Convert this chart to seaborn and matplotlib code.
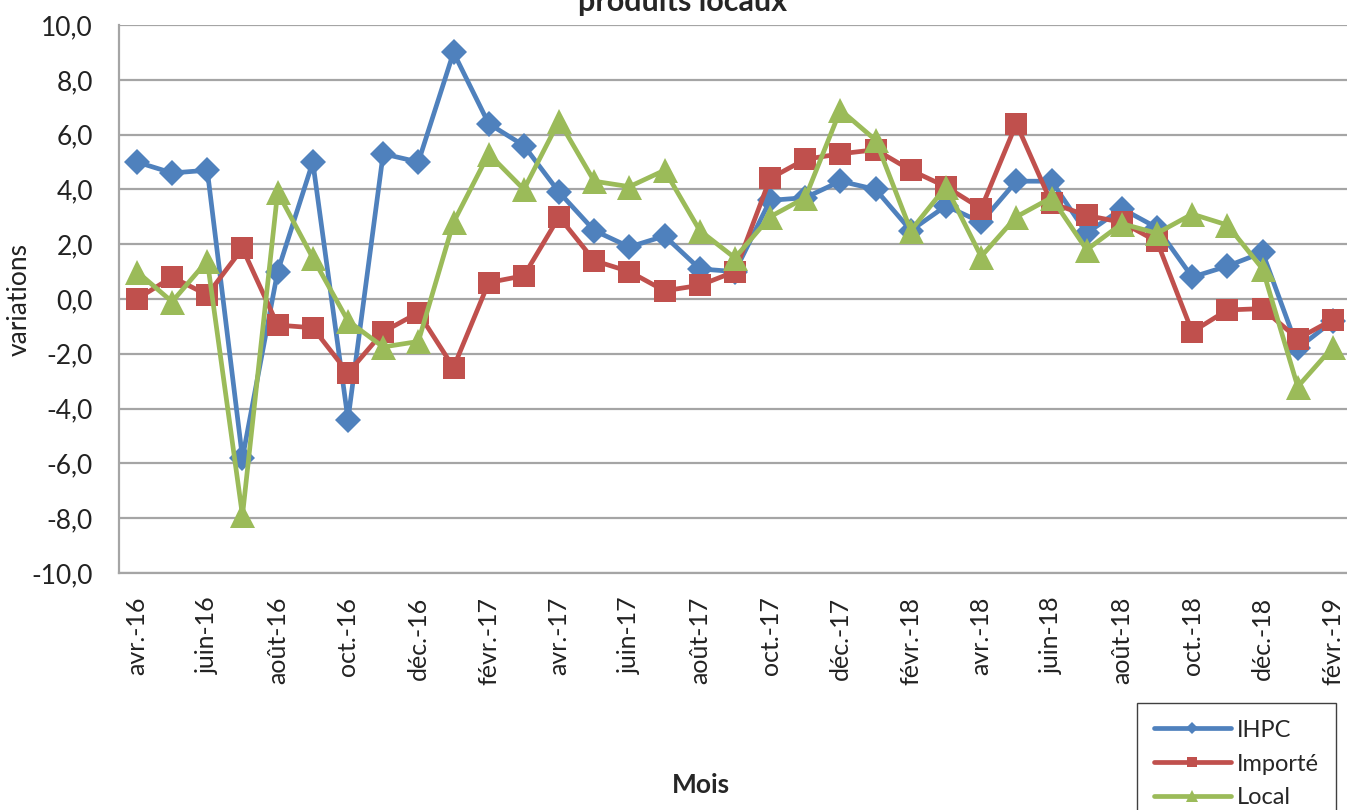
import numpy as np
import seaborn as sns
import matplotlib.pyplot as plt
from matplotlib.ticker import FuncFormatter

# months (avr.-16 -> févr.-19)
mois = ['avr.-16', 'mai-16', 'juin-16', 'juil.-16', 'août-16', 'sept.-16', 'oct.-16', 'nov.-16', 'déc.-16',
        'janv.-17', 'févr.-17', 'mars-17', 'avr.-17', 'mai-17', 'juin-17', 'juil.-17', 'août-17', 'sept.-17',
        'oct.-17', 'nov.-17', 'déc.-17', 'janv.-18', 'févr.-18', 'mars-18', 'avr.-18', 'mai-18', 'juin-18',
        'juil.-18', 'août-18', 'sept.-18', 'oct.-18', 'nov.-18', 'déc.-18', 'janv.-19', 'févr.-19']

ihpc = [5.0, 4.6, 4.7, -5.8, 1.0, 5.0, -4.4, 5.3, 5.0,
        9.0, 6.4, 5.6, 3.9, 2.5, 1.9, 2.3, 1.1, 1.0,
        3.6, 3.7, 4.3, 4.0, 2.5, 3.4, 2.8, 4.3, 4.3,
        2.4, 3.3, 2.6, 0.8, 1.2, 1.7, -1.8, -0.8]
importe = [0.0, 0.8, 0.15, 1.85, -0.95, -1.05, -2.7, -1.2, -0.5,
           -2.5, 0.6, 0.85, 3.0, 1.4, 1.0, 0.3, 0.5, 1.0,
           4.4, 5.1, 5.3, 5.45, 4.7, 4.1, 3.3, 6.4, 3.5,
           3.05, 2.8, 2.1, -1.2, -0.4, -0.35, -1.45, -0.75]
local = [1.0, -0.1, 1.4, -7.9, 3.9, 1.5, -0.8, -1.75, -1.55,
         2.8, 5.3, 4.0, 6.5, 4.3, 4.1, 4.7, 2.5, 1.5,
         3.0, 3.7, 6.9, 5.8, 2.5, 4.1, 1.55, 3.0, 3.7,
         1.8, 2.75, 2.4, 3.1, 2.7, 1.1, -3.2, -1.75]

sns.set_style('white')
plt.rcParams['font.family'] = ['Lato', 'DejaVu Sans']

fig = plt.figure(figsize=(13.47, 8.10), dpi=100)
ax = fig.add_axes([0.0886, 0.2926, 0.914, 0.6765])

x = np.arange(len(mois))
series = [('IHPC', ihpc, '#4F81BD', 'D', 13),
          ('Importé', importe, '#C0504D', 's', 16),
          ('Local', local, '#9BBB59', '^', 18)]
for name, vals, col, mk, ms in series:
    sns.lineplot(x=x, y=vals, color=col, marker=mk, markersize=ms, markeredgewidth=0,
                 linewidth=3.4, label=name, ax=ax)

ax.set_xlim(-0.5, len(mois) - 0.5)
ax.set_ylim(-10, 10)
ax.set_yticks(np.arange(-10, 11, 2))
ax.yaxis.set_major_formatter(FuncFormatter(lambda v, _: f'{v:.1f}'.replace('.', ',')))
ax.set_xticks(x[::2])
ax.set_xticklabels(mois[::2], rotation=90, fontsize=18, color='#222222')
ax.tick_params(axis='x', length=0, pad=17)
ax.tick_params(axis='y', length=7, width=1.5, color='#a5a5a5', pad=12, labelsize=19, labelcolor='#222222')

ax.yaxis.grid(True, color='#a5a5a5', linewidth=1.6)
ax.xaxis.grid(False)
ax.set_axisbelow(True)
for s in ['top', 'right']:
    ax.spines[s].set_visible(False)
for s in ['left', 'bottom']:
    ax.spines[s].set_color('#a5a5a5')
    ax.spines[s].set_linewidth(1.6)

ax.set_ylabel('variations', fontsize=19, color='#222222')
ax.yaxis.set_label_coords(-0.071, 0.5)
ax.set_xlabel('Mois', fontsize=19, fontweight='bold')
ax.xaxis.set_label_coords(0.472, -0.365)

fig.text(683 / 1347, 1 - 11 / 810, 'produits locaux', ha='center', va='baseline',
         fontsize=22, fontweight='bold')

handles, labels = ax.get_legend_handles_labels()
ax.legend(handles, labels, loc='upper left', bbox_to_anchor=(1137 / 1347, 1 - 703 / 810),
          bbox_transform=fig.transFigure, fontsize=17, markerscale=0.45, handlelength=3.3,
          frameon=True, fancybox=False, edgecolor='#404040', framealpha=1, borderaxespad=0,
          labelspacing=0.55, borderpad=0.7, handletextpad=0.25)

fig.savefig('out.png', dpi=100)
